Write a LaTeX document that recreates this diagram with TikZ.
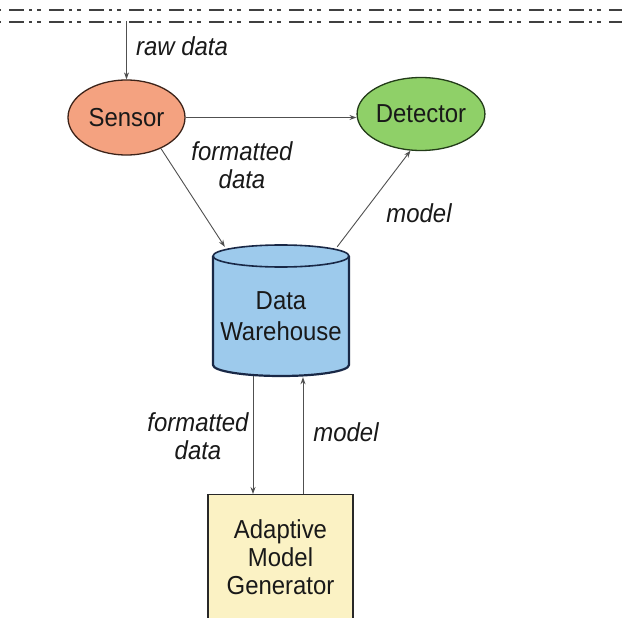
\documentclass[tikz,border=0pt]{standalone}
\usepackage{fontspec}
\setmainfont{Liberation Sans}[FakeStretch=0.92]
\usetikzlibrary{shapes.geometric,arrows.meta}
\definecolor{sensorfill}{RGB}{244,162,128}
\definecolor{sensorline}{RGB}{60,35,25}
\definecolor{detfill}{RGB}{143,208,104}
\definecolor{detline}{RGB}{35,60,25}
\definecolor{dwfill}{RGB}{157,202,236}
\definecolor{dwline}{RGB}{25,40,70}
\definecolor{amgfill}{RGB}{251,242,196}
\definecolor{amgline}{RGB}{40,40,40}
\definecolor{arrgray}{RGB}{80,80,80}
\definecolor{txt}{RGB}{25,25,25}
\tikzset{
  big/.style={font=\fontsize{26}{28}\selectfont, text=txt},
  lbl/.style={font=\fontsize{26}{28}\selectfont\itshape, text=txt, align=center, inner sep=0pt},
  arr/.style={draw=arrgray, line width=0.9pt, -{Stealth[length=7pt,width=5pt]}},
  topline/.style={draw=black!75, line width=2pt, dash pattern=on 15pt off 5pt on 3.3pt off 5pt on 3.3pt off 8.4pt, dash phase=-9pt},
}
\begin{document}
\begin{tikzpicture}[x=1pt,y=-1pt]
\useasboundingbox (0,0) rectangle (622,618);
\clip (0,0) rectangle (622,618);
\fill[white] (0,0) rectangle (622,618);
% top dash-dot lines
\draw[topline] (0,10.5) -- (622,10.5);
\draw[topline] (0,22) -- (622,22);
% nodes
\node[ellipse, draw=sensorline, line width=1.3pt, fill=sensorfill, minimum width=117pt, minimum height=75pt, inner sep=0pt, big] (sensor) at (126.5,117.5) {Sensor};
\node[ellipse, draw=detline, line width=1.3pt, fill=detfill, minimum width=117pt, minimum height=73pt, inner sep=0pt, big] (detector) at (421,114) {Detector};
% cylinder
\path[fill=dwfill] (213,256) -- (213,365) arc[start angle=180, end angle=360, x radius=68pt, y radius=11pt] -- (349,256) arc[start angle=0, end angle=180, x radius=68pt, y radius=11pt] -- cycle;
\draw[dwline, line width=2.2pt] (213,256) -- (213,365) arc[start angle=180, end angle=360, x radius=68pt, y radius=11pt] -- (349,256);
\draw[dwline, line width=1.6pt] (281,256) ellipse[x radius=68pt, y radius=11pt];
\node[minimum width=136pt, minimum height=120pt, inner sep=0pt, big, align=center] (dw) at (281,316) {Data\\[3pt]Warehouse};
% AMG box
\node[draw=amgline, line width=1.3pt, fill=amgfill, minimum width=145pt, minimum height=126pt, inner sep=0pt, big, align=center, anchor=north] (amg) at (280.5,494) {Adaptive\\Model\\Generator};
% connectors
\coordinate (rawtop) at (126.5,21);
\draw[arr] (rawtop) -- (sensor.north);
\draw[arr] (sensor.east) -- (sensor.east -| detector.west);
\draw[arr] (sensor.-42) -- ([xshift=12pt,yshift=9pt]dw.north west);
\draw[arr] ([xshift=-12pt,yshift=9pt]dw.north east) -- (detector.-106);
\draw[arr] ([xshift=-28pt]dw.south) -- ([xshift=-27.5pt]amg.north);
\draw[arr] ([xshift=22.5pt]amg.north) -- ([xshift=22pt,yshift=-1pt]dw.south);
% labels
\node[lbl, anchor=west] (lraw) at (136,46) {raw data};
\node[lbl] (lfd1) at (242,165) {formatted\\data};
\node[lbl] (lm1) at (419,213) {model};
\node[lbl] (lfd2) at (198,436) {formatted\\data};
\node[lbl] (lm2) at (346,432) {model};
\end{tikzpicture}
\end{document}
